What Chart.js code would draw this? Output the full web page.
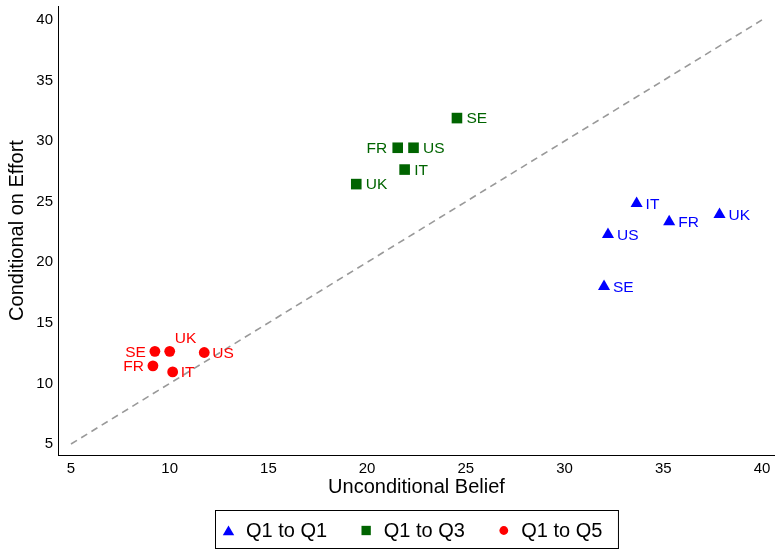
<!DOCTYPE html>
<html>
<head>
<meta charset="utf-8">
<script src="https://cdn.jsdelivr.net/npm/chart.js"></script>
<style>
  html, body { margin: 0; padding: 0; background: #fff; }
  #wrap { width: 775px; height: 549px; position: relative; }
</style>
</head>
<body>
<div id="wrap"><canvas id="beliefChart"></canvas></div>
<script>
// countries, same order in every series
const countries = ['FR', 'IT', 'SE', 'UK', 'US'];

// Q1 to Q1
const q1Belief = [35.3, 33.65, 32.0, 37.85, 32.2];
const q1Effort = [23.35, 24.85, 18.0, 23.95, 22.3];
// Q1 to Q3
const q3Belief = [21.55, 21.9, 24.55, 19.45, 22.35];
const q3Effort = [29.45, 27.65, 31.9, 26.45, 29.45];
// Q1 to Q5
const q5Belief = [9.15, 10.15, 9.25, 10.0, 11.75];
const q5Effort = [11.45, 10.95, 12.65, 12.65, 12.55];

const seriesNames = ['Q1 to Q1', 'Q1 to Q3', 'Q1 to Q5'];
const xTicks = [5, 10, 15, 20, 25, 30, 35, 40];
const yTicks = [5, 10, 15, 20, 25, 30, 35, 40];
const diagonal = [5, 40];

// where each country label sits (default: right of the marker)
const labelSide = {
  'Q1 to Q3': { FR: 'left' },
  'Q1 to Q5': { SE: 'left', FR: 'left', UK: 'above' }
};

const FONT = '"Liberation Sans", Arial, Helvetica, sans-serif';
Chart.defaults.font.family = FONT;
Chart.defaults.color = '#000';

function pts(xs, ys) {
  return xs.map((x, i) => ({ x: x, y: ys[i] }));
}

const countryLabels = {
  id: 'countryLabels',
  afterDatasetsDraw(chart) {
    const ctx = chart.ctx;
    ctx.save();
    ctx.font = '15.5px ' + FONT;
    ctx.textBaseline = 'middle';
    chart.data.datasets.forEach((ds, di) => {
      if (!ds.names) return;
      const meta = chart.getDatasetMeta(di);
      const sides = labelSide[ds.label] || {};
      ctx.fillStyle = ds.backgroundColor;
      meta.data.forEach((el, i) => {
        const name = ds.names[i];
        const side = sides[name] || 'right';
        const gap = Math.max(8, ds.pointRadius + 2);
        if (side === 'left') {
          ctx.textAlign = 'right';
          ctx.fillText(name, el.x - gap - 1, el.y + 1);
        } else if (side === 'above') {
          ctx.textAlign = 'left';
          ctx.fillText(name, el.x + 5, el.y - 13);
        } else {
          ctx.textAlign = 'left';
          ctx.fillText(name, el.x + gap, el.y + 1);
        }
      });
    });
    ctx.restore();
  }
};

// boxed legend centred under the plot
const boxLegend = {
  id: 'boxLegend',
  afterDraw(chart) {
    const ctx = chart.ctx;
    const area = chart.chartArea;
    const items = chart.data.datasets.filter(d => d.names);
    ctx.save();
    ctx.font = '20px ' + FONT;
    const widths = items.map(d => ctx.measureText(d.label).width);
    const padL = 13, toText = 17.5, toNext = 39, padR = 16;
    let total = padL + padR;
    widths.forEach((w, i) => { total += toText + w + (i < widths.length - 1 ? toNext : 0); });
    const left = Math.round((area.left + area.right) / 2 - total / 2) + 0.5;
    const top = 510.5, h = 38;
    ctx.strokeStyle = '#000';
    ctx.lineWidth = 1;
    ctx.strokeRect(left, top, total, h);
    const cy = top + h / 2 + 1;
    let x = left + padL;
    const sizes = { triangle: 6.6, rect: 6.6, circle: 4.4 };
    items.forEach((d, i) => {
      ctx.fillStyle = d.backgroundColor;
      ctx.strokeStyle = d.backgroundColor;
      Chart.helpers.drawPoint(ctx, {
        pointStyle: d.pointStyle,
        radius: sizes[d.pointStyle],
        rotation: 0,
        borderWidth: 0
      }, x, d.pointStyle === 'triangle' ? cy + 1.5 : cy);
      ctx.fillStyle = '#000';
      ctx.textAlign = 'left';
      ctx.textBaseline = 'middle';
      ctx.fillText(d.label, x + toText, cy + 1);
      x += toText + widths[i] + toNext;
    });
    ctx.restore();
  }
};

const ctx = document.getElementById('beliefChart').getContext('2d');
new Chart(ctx, {
  type: 'scatter',
  data: {
    datasets: [
      {
        label: 'diagonal',
        type: 'line',
        data: pts(diagonal, diagonal),
        borderColor: '#999999',
        borderWidth: 1.6,
        borderDash: [7, 5],
        pointRadius: 0,
        fill: false
      },
      {
        label: seriesNames[0],
        names: countries,
        data: pts(q1Belief, q1Effort),
        pointStyle: 'triangle',
        pointRadius: 7,
        backgroundColor: '#0000ff',
        borderColor: '#0000ff',
        borderWidth: 0
      },
      {
        label: seriesNames[1],
        names: countries,
        data: pts(q3Belief, q3Effort),
        pointStyle: 'rect',
        pointRadius: 7.5,
        backgroundColor: '#006400',
        borderColor: '#006400',
        borderWidth: 0
      },
      {
        label: seriesNames[2],
        names: countries,
        data: pts(q5Belief, q5Effort),
        pointStyle: 'circle',
        pointRadius: 5.4,
        backgroundColor: '#ff0000',
        borderColor: '#ff0000',
        borderWidth: 0
      }
    ]
  },
  options: {
    responsive: true,
    maintainAspectRatio: false,
    animation: false,
    layout: { autoPadding: false, padding: { top: 6, left: 0, right: 0, bottom: 49 } },
    plugins: {
      legend: { display: false },
      tooltip: { enabled: false }
    },
    scales: {
      x: {
        type: 'linear',
        min: 4.342,
        max: 40.66,
        grid: { display: false, drawTicks: false },
        border: { display: true, color: '#000', width: 1 },
        ticks: { font: { size: 15 }, color: '#000', padding: 5 },
        title: {
          display: true,
          text: 'Unconditional Belief',
          font: { size: 20 },
          color: '#000',
          padding: { top: 0, bottom: 1 }
        },
        afterBuildTicks: s => { s.ticks = xTicks.map(v => ({ value: v })); },
        afterFit: s => { s.height = 45; s.paddingLeft = 0; s.paddingRight = 0; }
      },
      y: {
        type: 'linear',
        min: 4.092,
        max: 41.15,
        grid: { display: false, drawTicks: false },
        border: { display: true, color: '#000', width: 1 },
        ticks: { font: { size: 15 }, color: '#000', padding: 5 },
        title: {
          display: true,
          text: 'Conditional on Effort',
          font: { size: 20 },
          color: '#000',
          padding: { top: 5, bottom: 0 }
        },
        afterBuildTicks: s => { s.ticks = yTicks.map(v => ({ value: v })); },
        afterFit: s => { s.width = 58; s.paddingTop = 0; s.paddingBottom = 0; }
      }
    }
  },
  plugins: [countryLabels, boxLegend]
});
</script>
</body>
</html>
